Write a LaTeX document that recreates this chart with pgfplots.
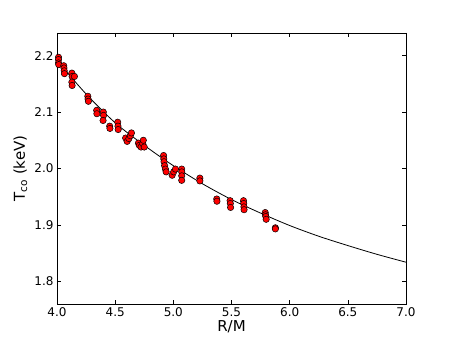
\documentclass[border=0pt]{standalone}
\usepackage{pgfplots}
\pgfplotsset{compat=1.18}
\usepackage{fontspec}
\setmainfont{DejaVu Sans}
\begin{document}
\begin{tikzpicture}
\begin{axis}[
    scale only axis,
    width=349pt, height=271pt,
    xmin=4, xmax=7, ymin=1.76, ymax=2.24,
    xtick={4.0,4.5,5.0,5.5,6.0,6.5,7.0},
    ytick={1.8,1.9,2.0,2.1,2.2},
    axis line style={line width=0.8pt},
    major tick length=4pt,
    tick style={black, line width=0.6pt},
    tick label style={font=\fontsize{12}{14}\selectfont},
    /pgf/number format/assume math mode=true,
    xticklabel style={/pgf/number format/.cd, fixed, fixed zerofill, precision=1},
    yticklabel style={/pgf/number format/.cd, fixed, fixed zerofill, precision=1},
    xlabel={R/M},
    ylabel={T\textsubscript{co} (keV)},
    label style={font=\fontsize{15}{18}\selectfont},
    xlabel style={at={(axis description cs:0.5,-0.084)}, anchor=center},
    ylabel style={at={(axis description cs:-0.105,0.5)}, anchor=center},
]
% measured points
\addplot[only marks, mark=*, mark size=3.2pt,
         mark options={fill=red, draw=black, line width=0.5pt}] coordinates {
    (4.013,2.197) (4.013,2.193) (4.013,2.187) (4.015,2.184)
    (4.058,2.182) (4.060,2.178) (4.062,2.173) (4.064,2.168)
    (4.128,2.169) (4.130,2.163) (4.128,2.153) (4.130,2.147) (4.150,2.163)
    (4.265,2.128) (4.267,2.123) (4.270,2.119)
    (4.341,2.103) (4.343,2.097) (4.398,2.100) (4.400,2.094) (4.396,2.085)
    (4.453,2.075) (4.455,2.071)
    (4.522,2.082) (4.524,2.075) (4.526,2.069)
    (4.590,2.054) (4.603,2.048) (4.618,2.053) (4.630,2.058) (4.640,2.063)
    (4.700,2.045) (4.708,2.041) (4.722,2.038) (4.737,2.044) (4.742,2.050) (4.750,2.038)
    (4.916,2.023) (4.918,2.017) (4.920,2.012) (4.925,2.005) (4.932,1.999) (4.938,1.994)
    (4.990,1.988) (5.003,1.994) (5.018,1.999)
    (5.072,1.999) (5.072,1.994) (5.072,1.987) (5.072,1.979)
    (5.228,1.983) (5.228,1.978)
    (5.373,1.946) (5.375,1.942)
    (5.488,1.943) (5.490,1.938) (5.492,1.931)
    (5.603,1.943) (5.605,1.938) (5.607,1.932) (5.608,1.927)
    (5.790,1.922) (5.792,1.918) (5.795,1.915) (5.798,1.910)
    (5.877,1.895) (5.877,1.893)
};
% model curve
\addplot[black, line width=0.8pt, smooth] coordinates {
    (4.00,2.191) (4.25,2.132) (4.50,2.081) (4.75,2.041) (5.00,2.005)
    (5.25,1.973) (5.50,1.945) (5.75,1.921) (6.00,1.899) (6.25,1.880)
    (6.50,1.8635) (6.75,1.848) (7.00,1.834)
};
\coordinate (sw) at (rel axis cs:0,0);
\coordinate (ne) at (rel axis cs:1,1);
\end{axis}
\pgfresetboundingbox
\path ([xshift=-57pt,yshift=-35pt]sw) rectangle ([xshift=46pt,yshift=33pt]ne);
\end{tikzpicture}
\end{document}
